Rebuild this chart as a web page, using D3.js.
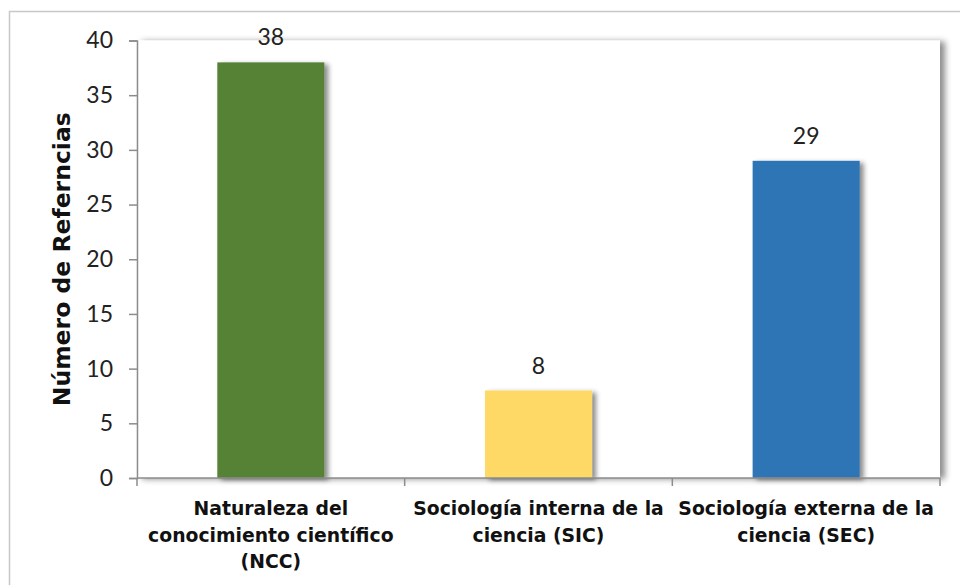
<!DOCTYPE html>
<html>
<head>
<meta charset="utf-8">
<script src="https://cdn.jsdelivr.net/npm/d3@7"></script>
<style>
  html, body { margin: 0; padding: 0; background: #fff; }
  svg { display: block; }
</style>
</head>
<body>
<script>
// Chart data
const categories = [
  ["Naturaleza del", "conocimiento científico", "(NCC)"],
  ["Sociología interna de la", "ciencia (SIC)"],
  ["Sociología externa de la", "ciencia (SEC)"]
];
const values = [38, 8, 29];
const barColors = ["#548235", "#FFD966", "#2E75B6"];
const yTicks = [0, 5, 10, 15, 20, 25, 30, 35, 40];
const yTitle = "Número de Referncias";

const W = 960, H = 585;
const margin = { left: 137, right: 20, top: 40.5, bottom: 107 };
const fontFamily = "'Lato', 'Open Sans', sans-serif";
const boldFamily = "'DejaVu Sans', 'Lato', sans-serif";

const svg = d3.select("body").append("svg")
  .attr("width", W).attr("height", H);

const defs = svg.append("defs");
const plotShadow = defs.append("filter").attr("id", "plotShadow")
  .attr("x", "-5%").attr("y", "-5%").attr("width", "115%").attr("height", "115%");
plotShadow.append("feDropShadow")
  .attr("dx", 5).attr("dy", 1).attr("stdDeviation", 3)
  .attr("flood-color", "#000").attr("flood-opacity", 0.45);

const barShadow = defs.append("filter").attr("id", "barShadow")
  .attr("x", "-10%").attr("y", "-10%").attr("width", "130%").attr("height", "130%");
barShadow.append("feDropShadow")
  .attr("dx", 4).attr("dy", 2).attr("stdDeviation", 2.5)
  .attr("flood-color", "#000").attr("flood-opacity", 0.45);

// Outer chart border
svg.append("rect")
  .attr("x", 9.5).attr("y", 11.5)
  .attr("width", W).attr("height", H)
  .attr("fill", "#fff")
  .attr("stroke", "#c8c8c8").attr("stroke-width", 1.5);

const x0 = margin.left, x1 = 940;
const y0 = 478, y1 = margin.top;

const x = d3.scaleBand()
  .domain(d3.range(values.length))
  .range([x0, x1])
  .paddingInner(0.6)
  .paddingOuter(0.3);

const y = d3.scaleLinear().domain([0, 40]).range([y0, y1]);

// Plot area with shadow
svg.append("rect")
  .attr("x", x0).attr("y", y1)
  .attr("width", x1 - x0).attr("height", y0 - y1)
  .attr("fill", "#fff")
  .attr("filter", "url(#plotShadow)");

// Bars
svg.append("g").selectAll("rect")
  .data(values)
  .join("rect")
  .attr("x", (d, i) => x(i))
  .attr("y", d => y(d))
  .attr("width", x.bandwidth())
  .attr("height", d => y(0) - y(d))
  .attr("fill", (d, i) => barColors[i])
  .attr("filter", "url(#barShadow)");

// Value labels
svg.append("g").selectAll("text")
  .data(values)
  .join("text")
  .attr("x", (d, i) => x(i) + x.bandwidth() / 2)
  .attr("y", d => y(d) - 17)
  .attr("text-anchor", "middle")
  .attr("font-family", fontFamily)
  .attr("font-size", 23)
  .attr("fill", "#222")
  .text(d => d);

// Y axis
const yAxis = svg.append("g")
  .attr("transform", `translate(${x0},0)`)
  .call(d3.axisLeft(y).tickValues(yTicks).tickSize(8).tickPadding(16));
yAxis.select(".domain").attr("stroke", "#8c8c8c").attr("stroke-width", 1.5);
yAxis.selectAll(".tick line").attr("stroke", "#8c8c8c").attr("stroke-width", 1.5);
yAxis.selectAll(".tick text")
  .attr("font-family", fontFamily)
  .attr("font-size", 23)
  .attr("fill", "#222");

// X axis: boundary ticks between categories
const bounds = [x0, ...d3.range(1, values.length).map(i => x(i) - x.step() * x.paddingInner() / 2), x1];
const xAxis = svg.append("g");
xAxis.append("line")
  .attr("x1", x0).attr("x2", x1)
  .attr("y1", y0).attr("y2", y0)
  .attr("stroke", "#8c8c8c").attr("stroke-width", 1.5);
xAxis.selectAll("line.tick")
  .data(bounds)
  .join("line")
  .attr("class", "tick")
  .attr("x1", d => d).attr("x2", d => d)
  .attr("y1", y0).attr("y2", y0 + 8)
  .attr("stroke", "#8c8c8c").attr("stroke-width", 1.5);

// Category labels
const catG = svg.append("g").selectAll("text")
  .data(categories)
  .join("text")
  .attr("text-anchor", "middle")
  .attr("font-family", boldFamily)
  .attr("font-weight", "bold")
  .attr("font-size", 18.8)
  .attr("fill", "#111");
catG.each(function (lines, i) {
  const t = d3.select(this);
  lines.forEach((line, j) => {
    t.append("tspan")
      .attr("x", x(i) + x.bandwidth() / 2)
      .attr("y", 515 + j * 26.5)
      .text(line);
  });
});

// Y axis title
svg.append("text")
  .attr("transform", `translate(70,${(y0 + y1) / 2}) rotate(-90)`)
  .attr("text-anchor", "middle")
  .attr("font-family", boldFamily)
  .attr("font-weight", "bold")
  .attr("font-size", 23.5)
  .attr("fill", "#111")
  .text(yTitle);
</script>
</body>
</html>
